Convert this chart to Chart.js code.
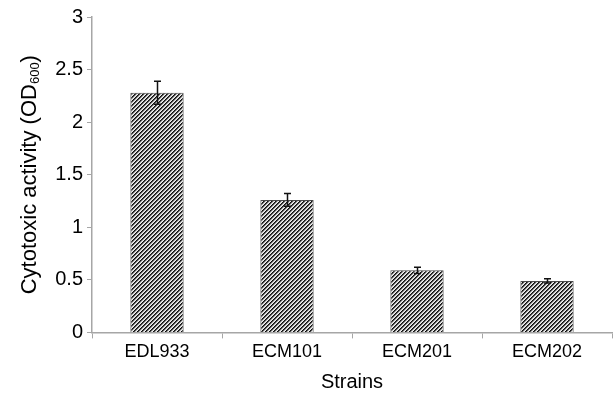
<!DOCTYPE html>
<html>
<head>
<meta charset="utf-8">
<script src="https://cdn.jsdelivr.net/npm/chart.js@4"></script>
<style>
  body { margin: 0; background: #fff; }
  #wrap { width: 616px; height: 396px; }
</style>
</head>
<body>
<div id="wrap"><canvas id="chart" width="616" height="396"></canvas></div>
<script>
const strains = ["EDL933", "ECM101", "ECM201", "ECM202"];
const activity = [2.28, 1.26, 0.59, 0.49];
const errors = [0.11, 0.06, 0.03, 0.02];
const yTicks = [0, 0.5, 1, 1.5, 2, 2.5, 3];

const FONT = "'Liberation Sans', Arial, sans-serif";

// hatch pattern, diagonal stripes
function makeHatch(ctx) {
  const c = document.createElement("canvas");
  c.width = 4;
  c.height = 4;
  const p = c.getContext("2d");
  const shades = ["#111111", "#4a4a4a", "#c8c8c8", "#efefef"];
  for (let y = 0; y < 4; y++) {
    for (let x = 0; x < 4; x++) {
      p.fillStyle = shades[(x + y) % 4];
      p.fillRect(x, y, 1, 1);
    }
  }
  return ctx.createPattern(c, "repeat");
}

const errorBars = {
  id: "errorBars",
  afterDatasetsDraw(chart) {
    const ctx = chart.ctx;
    const yScale = chart.scales.y;
    const meta = chart.getDatasetMeta(0);
    ctx.save();
    ctx.strokeStyle = "#111";
    ctx.lineWidth = 1.5;
    meta.data.forEach((bar, i) => {
      const x = Math.round(bar.x) + 0.5;
      const top = yScale.getPixelForValue(activity[i] + errors[i]);
      const bot = yScale.getPixelForValue(activity[i] - errors[i]);
      ctx.beginPath();
      ctx.moveTo(x, top);
      ctx.lineTo(x, bot);
      ctx.moveTo(x - 3.5, top);
      ctx.lineTo(x + 3.5, top);
      ctx.moveTo(x - 3.5, bot);
      ctx.lineTo(x + 3.5, bot);
      ctx.stroke();
    });
    ctx.restore();
  }
};

const yTitle = {
  id: "yTitle",
  afterDraw(chart) {
    const ctx = chart.ctx;
    const area = chart.chartArea;
    ctx.save();
    ctx.translate(36, (area.top + area.bottom) / 2);
    ctx.rotate(-Math.PI / 2);
    ctx.fillStyle = "#000";
    ctx.textBaseline = "alphabetic";
    const main = "Cytotoxic activity (OD";
    const sub = "600";
    ctx.font = "22px " + FONT;
    const w1 = ctx.measureText(main).width;
    ctx.font = "13px " + FONT;
    const w2 = ctx.measureText(sub).width;
    ctx.font = "22px " + FONT;
    const w3 = ctx.measureText(")").width;
    let x = -(w1 + w2 + w3) / 2;
    ctx.fillText(main, x, 0);
    x += w1;
    ctx.font = "13px " + FONT;
    ctx.fillText(sub, x, 3);
    x += w2;
    ctx.font = "22px " + FONT;
    ctx.fillText(")", x, 0);
    ctx.restore();
  }
};

const ctx = document.getElementById("chart").getContext("2d");
new Chart(ctx, {
  type: "bar",
  data: {
    labels: strains,
    datasets: [
      {
        data: activity,
        backgroundColor: makeHatch(ctx),
        borderColor: "#4a4a4a",
        borderWidth: 1,
        categoryPercentage: 1,
        barPercentage: 0.41,
      },
    ],
  },
  options: {
    responsive: false,
    animation: false,
    layout: { padding: { left: 0, right: 4, top: 17, bottom: 0 } },
    plugins: { legend: { display: false }, tooltip: { enabled: false } },
    scales: {
      x: {
        grid: { display: true, drawOnChartArea: false, offset: true, tickLength: 6, color: "#a6a6a6" },
        border: { color: "#a6a6a6", width: 1.5 },
        ticks: { color: "#000", font: { family: FONT, size: 18 }, padding: 3 },
        title: {
          display: true,
          text: "Strains",
          color: "#000",
          font: { family: FONT, size: 20 },
          padding: { top: 4, bottom: 2 },
        },
      },
      y: {
        min: 0,
        max: 3,
        afterBuildTicks(axis) {
          axis.ticks = yTicks.map((v) => ({ value: v }));
        },
        afterFit(axis) {
          axis.width = 92;
        },
        grid: { display: true, drawOnChartArea: false, tickLength: 5, color: "#a6a6a6" },
        border: { color: "#a6a6a6", width: 1.5 },
        ticks: {
          color: "#000",
          font: { family: FONT, size: 20 },
          padding: 4,
          callback: (v) => String(v),
        },
      },
    },
  },
  plugins: [errorBars, yTitle],
});
</script>
</body>
</html>
